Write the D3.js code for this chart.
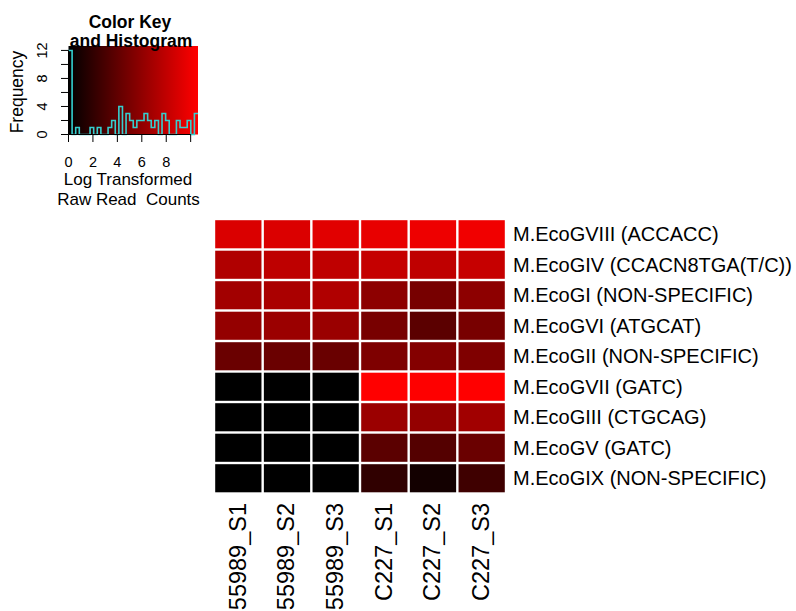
<!DOCTYPE html>
<html>
<head>
<meta charset="utf-8">
<script src="https://cdn.jsdelivr.net/npm/d3@7"></script>
<style>
  html, body { margin: 0; padding: 0; background: #fff; }
  svg { display: block; font-family: "Liberation Sans", Arial, sans-serif; }
</style>
</head>
<body>
<svg id="chart" width="796" height="611"></svg>
<script>
// Methyltransferase genes (rows, top to bottom)
const genes = [
  "M.EcoGVIII (ACCACC)",
  "M.EcoGIV (CCACN8TGA(T/C))",
  "M.EcoGI (NON-SPECIFIC)",
  "M.EcoGVI (ATGCAT)",
  "M.EcoGII (NON-SPECIFIC)",
  "M.EcoGVII (GATC)",
  "M.EcoGIII (CTGCAG)",
  "M.EcoGV (GATC)",
  "M.EcoGIX (NON-SPECIFIC)"
];

// Samples (columns, left to right)
const samples = ["55989_S1", "55989_S2", "55989_S3", "C227_S1", "C227_S2", "C227_S3"];

// Log transformed raw read counts per sample, in gene order
const s55989_S1 = [9.05, 7.33, 6.75, 6.15, 4.40, 0, 0, 0, 0];
const s55989_S2 = [9.12, 7.90, 7.05, 6.45, 4.41, 0, 0, 0, 0];
const s55989_S3 = [9.35, 7.93, 7.30, 6.40, 4.38, 0, 0, 0, 0];
const sC227_S1  = [9.65, 8.20, 5.85, 4.98, 5.25, 10.60, 6.46, 3.80, 2.00];
const sC227_S2  = [9.90, 7.94, 4.95, 3.80, 5.50, 10.55, 6.15, 3.50, 0.80];
const sC227_S3  = [10.00, 8.22, 5.87, 5.00, 5.27, 10.58, 6.70, 4.40, 2.60];
const sampleValues = [s55989_S1, s55989_S2, s55989_S3, sC227_S1, sC227_S2, sC227_S3];

// Color key axis ticks
const keyTicksX = [0, 2, 4, 6, 8, 10];
const keyLabelsX = [0, 2, 4, 6, 8];
const keyTicksY = [0, 2, 4, 6, 8, 10, 12];
const keyLabelsY = [0, 4, 8, 12];
const nBins = 36;

const svg = d3.select("#chart");

const cells = [];
sampleValues.forEach((vals, c) => vals.forEach((v, r) => cells.push({ sample: samples[c], gene: genes[r], value: v })));
const allValues = cells.map(d => d.value);
const vmin = 0;
const vmax = d3.max(allValues);

const color = d3.scaleLinear().domain([vmin, vmax]).range(["#000000", "#ff0000"]);

// ---------- Heatmap ----------
const x = d3.scaleBand().domain(samples).range([214, 506]);
const y = d3.scaleBand().domain(genes).range([219, 493.5]);
const gap = 2.4;

svg.append("g").selectAll("rect")
  .data(cells)
  .join("rect")
  .attr("x", d => x(d.sample) + gap / 2)
  .attr("y", d => y(d.gene) + gap / 2)
  .attr("width", x.bandwidth() - gap)
  .attr("height", y.bandwidth() - gap)
  .attr("fill", d => color(d.value));

// Row labels
svg.append("g").selectAll("text")
  .data(genes)
  .join("text")
  .attr("x", 513)
  .attr("y", d => y(d) + y.bandwidth() / 2)
  .attr("dy", "0.36em")
  .attr("font-size", 20)
  .attr("fill", "#000")
  .text(d => d);

// Column labels (rotated)
svg.append("g").selectAll("text")
  .data(samples)
  .join("text")
  .attr("transform", d => `translate(${x(d) + x.bandwidth() / 2 - 1},503) rotate(-90)`)
  .attr("text-anchor", "end")
  .attr("dy", "0.36em")
  .attr("font-size", 23.5)
  .attr("fill", "#000")
  .text(d => d);

// ---------- Color key with histogram ----------
const kx = d3.scaleLinear().domain([vmin, vmax]).range([68.5, 198]);
const ky = d3.scaleLinear().domain([0, 12 / 0.95]).range([134.5, 46]);

const defs = svg.append("defs");
const grad = defs.append("linearGradient").attr("id", "keyGrad").attr("x1", "0%").attr("x2", "100%");
grad.append("stop").attr("offset", "0%").attr("stop-color", color(vmin));
grad.append("stop").attr("offset", "100%").attr("stop-color", color(vmax));

svg.append("rect")
  .attr("x", kx(vmin)).attr("y", ky.range()[1])
  .attr("width", kx(vmax) - kx(vmin))
  .attr("height", ky.range()[0] - ky.range()[1])
  .attr("fill", "url(#keyGrad)");

// Histogram of all cell values, drawn as a step line
const thresholds = d3.range(1, nBins).map(i => vmin + i * (vmax - vmin) / nBins);
const bins = d3.bin().domain([vmin, vmax]).thresholds(thresholds)(allValues);
const stepPts = bins.map(b => [b.x0, b.length]);
stepPts.push([bins[bins.length - 1].x1, bins[bins.length - 1].length]);

svg.append("path")
  .datum(stepPts)
  .attr("fill", "none")
  .attr("stroke", "#35cfcf")
  .attr("stroke-width", 1.6)
  .attr("d", d3.line().x(d => kx(d[0])).y(d => ky(d[1])).curve(d3.curveStepAfter));

// Key x axis
const gx = svg.append("g");
gx.append("line")
  .attr("x1", kx(keyTicksX[0])).attr("x2", kx(keyTicksX[keyTicksX.length - 1]))
  .attr("y1", 134.5).attr("y2", 134.5).attr("stroke", "#000");
gx.selectAll("line.t").data(keyTicksX).join("line").attr("class", "t")
  .attr("x1", d => kx(d)).attr("x2", d => kx(d))
  .attr("y1", 134.5).attr("y2", 142).attr("stroke", "#000");
gx.selectAll("text").data(keyLabelsX).join("text")
  .attr("x", d => kx(d)).attr("y", 167)
  .attr("text-anchor", "middle").attr("font-size", 14.5)
  .text(d => d);

// Key y axis
const gy = svg.append("g");
gy.append("line")
  .attr("x1", 68.5).attr("x2", 68.5)
  .attr("y1", ky(keyTicksY[0])).attr("y2", ky(keyTicksY[keyTicksY.length - 1]))
  .attr("stroke", "#000");
gy.selectAll("line.t").data(keyTicksY).join("line").attr("class", "t")
  .attr("x1", 61).attr("x2", 68.5)
  .attr("y1", d => ky(d)).attr("y2", d => ky(d)).attr("stroke", "#000");
gy.selectAll("text").data(keyLabelsY).join("text")
  .attr("transform", d => `translate(47,${ky(d)}) rotate(-90)`)
  .attr("text-anchor", "middle").attr("font-size", 14.5)
  .text(d => d);

// Key titles and axis labels
svg.append("text")
  .attr("transform", "translate(23,92) rotate(-90)")
  .attr("text-anchor", "middle").attr("font-size", 17.5)
  .text("Frequency");

svg.append("text").attr("x", 130).attr("y", 28)
  .attr("text-anchor", "middle").attr("font-size", 17.5).attr("font-weight", "bold")
  .text("Color Key");
svg.append("text").attr("x", 131).attr("y", 47)
  .attr("text-anchor", "middle").attr("font-size", 17.5).attr("font-weight", "bold")
  .text("and Histogram");

svg.append("text").attr("x", 128).attr("y", 185)
  .attr("text-anchor", "middle").attr("font-size", 17)
  .text("Log Transformed");
svg.append("text").attr("x", 128.5).attr("y", 205)
  .attr("text-anchor", "middle").attr("font-size", 17)
  .style("white-space", "pre")
  .text("Raw Read  Counts");
</script>
</body>
</html>
